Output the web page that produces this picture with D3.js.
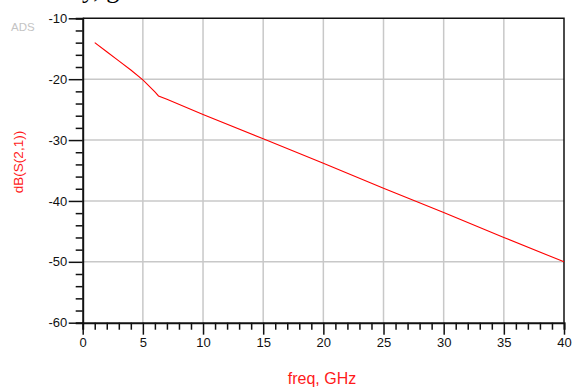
<!DOCTYPE html>
<html>
<head>
<meta charset="utf-8">
<script src="https://cdn.jsdelivr.net/npm/d3@7"></script>
<style>
  html, body { margin: 0; padding: 0; background: #fff; }
  svg { display: block; }
</style>
</head>
<body>
<svg id="chart" width="572" height="388"></svg>
<script>
// ---- data ----
const freqGHz = [1, 2, 3, 4, 5, 6, 6.3, 7, 10, 15, 20, 25, 30, 35, 40];
const dBS21   = [-14.0, -15.5, -17.0, -18.5, -20.1, -22.1, -22.75, -23.3, -25.8, -29.8, -33.8, -37.9, -41.9, -46.0, -50.0];
const xMajorTicks = [0, 5, 10, 15, 20, 25, 30, 35, 40];
const yMajorTicks = [-10, -20, -30, -40, -50, -60];
const xLabel = "freq, GHz";
const yLabel = "dB(S(2,1))";
const badge = "ADS";
const pageFragment = "y, g";

(function () {
// ---- layout ----
const svg = d3.select("#chart");
const pLeft = 82.7, pRight = 564, pTop = 18.3, pBottom = 322.7;
const x = d3.scaleLinear().domain([0, 40]).range([pLeft, pRight]);
const y = d3.scaleLinear().domain([-60, -10]).range([pBottom, pTop]);

// cropped text fragment from the source document at the very top
svg.append("text").attr("x", 82).attr("y", -2.5)
  .attr("font-family", "Liberation Serif, serif").attr("font-size", 26)
  .attr("fill", "#000").text(pageFragment);

// grid
const grid = svg.append("g").attr("stroke", "#c8c8c8").attr("stroke-width", 1.5);
grid.selectAll("line.v").data(xMajorTicks.slice(1, -1)).join("line").attr("class", "v")
  .attr("x1", d => x(d)).attr("x2", d => x(d)).attr("y1", pTop).attr("y2", pBottom);
grid.selectAll("line.h").data(yMajorTicks.slice(1, -1)).join("line").attr("class", "h")
  .attr("x1", pLeft).attr("x2", pRight).attr("y1", d => y(d)).attr("y2", d => y(d));

// frame top/right
svg.append("path")
  .attr("d", `M${pLeft},${pTop}H${pRight}V${pBottom}`)
  .attr("fill", "none").attr("stroke", "#111").attr("stroke-width", 1.5);

// x axis
const xAxis = d3.axisBottom(x).tickValues(d3.range(0, 41, 1)).tickSize(7)
  .tickFormat(d => xMajorTicks.includes(d) ? d : "");
const gx = svg.append("g").attr("transform", `translate(0,${pBottom})`).call(xAxis);
gx.select(".domain").attr("stroke", "#111").attr("stroke-width", 2);
gx.selectAll(".tick line").attr("stroke", "#111").attr("stroke-width", 1.5)
  .attr("y2", d => xMajorTicks.includes(d) ? 12 : 7);
gx.selectAll(".tick text").attr("font-family", "Liberation Sans, Arial, sans-serif")
  .attr("font-size", 13).attr("fill", "#111").attr("y", 15);

// y axis
const yAxis = d3.axisLeft(y).tickValues(d3.range(-60, -9, 2)).tickSize(7)
  .tickFormat(d => yMajorTicks.includes(d) ? d : "");
const gy = svg.append("g").attr("transform", `translate(${pLeft},0)`).call(yAxis);
gy.select(".domain").attr("stroke", "#111").attr("stroke-width", 2);
gy.selectAll(".tick line").attr("stroke", "#111").attr("stroke-width", 1.5)
  .attr("x2", d => yMajorTicks.includes(d) ? -14 : -7);
gy.selectAll(".tick text").attr("font-family", "Liberation Sans, Arial, sans-serif")
  .attr("font-size", 13).attr("fill", "#111").attr("x", -15.5);

// curve
const line = d3.line().x((d, i) => x(freqGHz[i])).y(d => y(d));
svg.append("path").datum(dBS21).attr("d", line)
  .attr("fill", "none").attr("stroke", "#ff0000").attr("stroke-width", 1.1);

// axis labels
svg.append("text").attr("x", 322).attr("y", 384).attr("text-anchor", "middle")
  .attr("font-family", "Liberation Sans, Arial, sans-serif").attr("font-size", 16)
  .attr("fill", "#ff1a1a").text(xLabel);
svg.append("text").attr("transform", "translate(23,162) rotate(-90)").attr("text-anchor", "middle")
  .attr("font-family", "Liberation Sans, Arial, sans-serif").attr("font-size", 13.5)
  .attr("fill", "#ff1a1a").text(yLabel);

// ADS badge
svg.append("text").attr("x", 11).attr("y", 31)
  .attr("font-family", "Liberation Sans, Arial, sans-serif").attr("font-size", 11.5)
  .attr("fill", "#c4c4c4").text(badge);
})();
</script>
</body>
</html>
